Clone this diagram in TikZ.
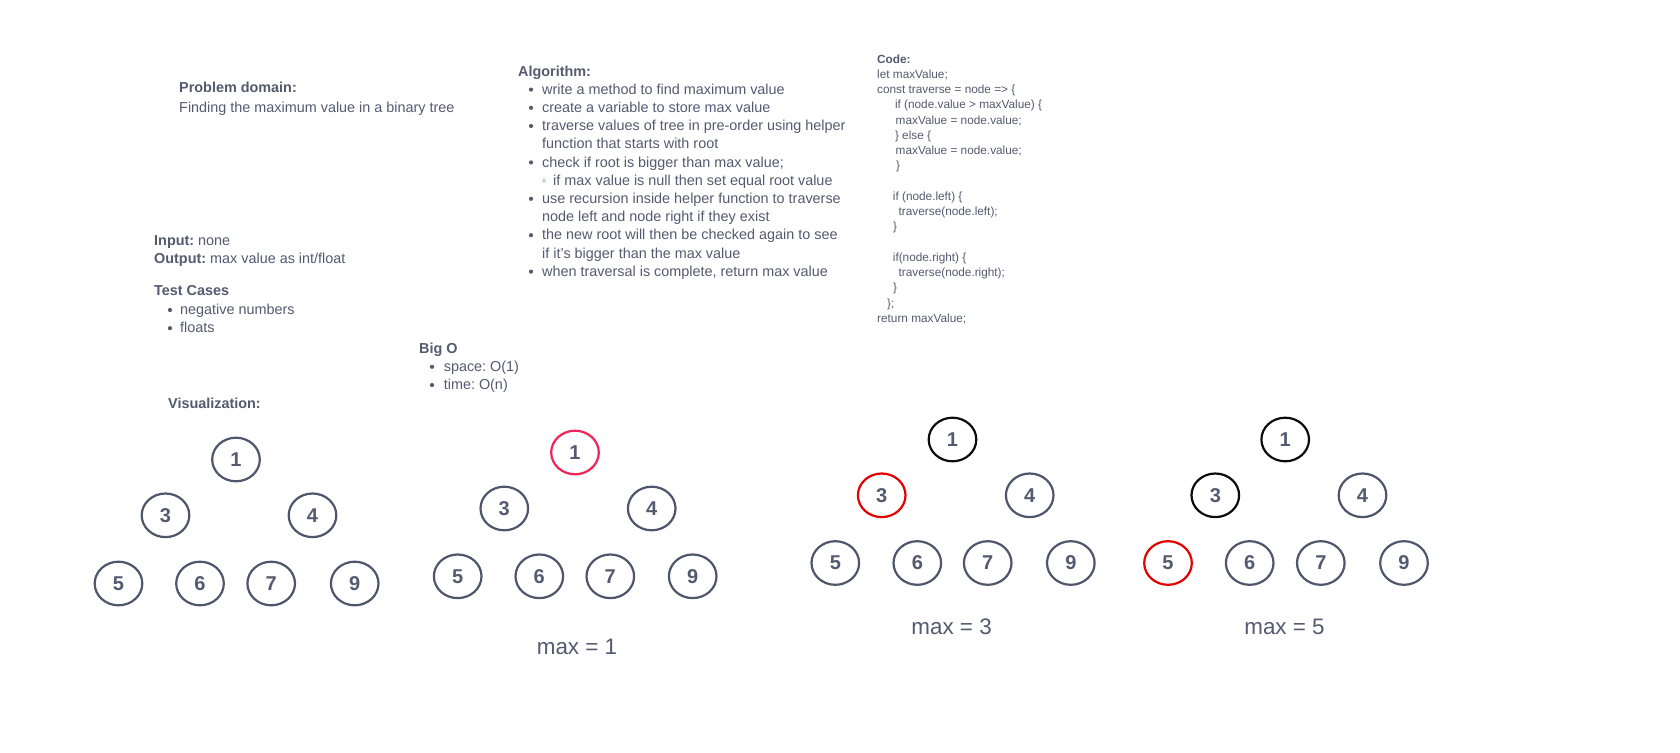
\documentclass[tikz,border=0pt]{standalone}
\usepackage{fontspec}
\setmainfont{Liberation Sans}
\usetikzlibrary{shapes.geometric}
\definecolor{ink}{RGB}{84,91,112}
\definecolor{ring}{RGB}{78,86,108}
\definecolor{pinkred}{RGB}{240,36,86}
\definecolor{hotred}{RGB}{226,0,0}
\definecolor{nearblack}{RGB}{12,12,12}
\definecolor{faint}{RGB}{190,194,204}
\frenchspacing
\tikzset{
  txt/.style={anchor=base west, inner sep=0pt, text=ink, font=\fontsize{14.4}{18}\selectfont},
  hd/.style={txt, font=\fontsize{14.4}{18}\selectfont\bfseries},
  codeln/.style={anchor=base west, inner sep=0pt, text=ink, font=\fontsize{11.8}{15}\selectfont},
  codehd/.style={codeln, font=\fontsize{11.8}{15}\selectfont\bfseries},
  bul/.style={fill=ink, draw=none, circle, inner sep=0pt, minimum size=4.2pt},
  subbul/.style={draw=faint, line width=0.8pt, circle, inner sep=0pt, minimum size=3.2pt},
  tnode/.style={ellipse, draw=ring, line width=2.2pt, minimum width=47.6pt, minimum height=43.6pt, inner sep=0pt, text=ink, font=\fontsize{20}{20}\selectfont\bfseries},
  maxlbl/.style={inner sep=0pt, text=ink, font=\fontsize{22.4}{22}\selectfont},
}
\begin{document}
\frenchspacing
\begin{tikzpicture}[x=1pt, y=-1pt]
\useasboundingbox[fill=white] (0,0) rectangle (1680,752);

% Problem domain
\node[hd] (pdh) at (179,92.7) {Problem domain:};
\node[txt] (pdt) at (179,112.3) {Finding the maximum value in a binary tree};

% Algorithm
\node[hd] (alh) at (518,76) {Algorithm:};
\node[txt] (al1) at (542,94.2) {write a method to find maximum value};
\node[txt] (al2) at (542,112.4) {create a variable to store max value};
\node[txt] (al3) at (542,130.6) {traverse values of tree in pre-order using helper};
\node[txt] (al4) at (542,148.8) {function that starts with root};
\node[txt] (al5) at (542,167) {check if root is bigger than max value;};
\node[txt] (al6) at (553,185.2) {if max value is null then set equal root value};
\node[txt] (al7) at (542,203.4) {use recursion inside helper function to traverse};
\node[txt] (al8) at (542,221.6) {node left and node right if they exist};
\node[txt] (al9) at (542,239.8) {the new root will then be checked again to see};
\node[txt] (al10) at (542,258) {if it{\char"27}s bigger than the max value};
\node[txt] (al11) at (542,276.2) {when traversal is complete, return max value};
\foreach \yy/\nm in {94.2/a,112.4/b,130.6/c,167/d,203.4/e,239.8/f,276.2/g}
  \node[bul] (alb\nm) at (531,\yy-4.6) {};
\node[subbul] (albs) at (544,185.2-4.6) {};

% Code
\node[codehd] (cdh) at (877,63.2) {Code:};
\node[codeln] (c1) at (877,78.45) {let maxValue;};
\node[codeln] (c2) at (877,93.7) {const traverse = node => \{};
\node[codeln] (c3) at (894.8,108.95) {if (node.value > maxValue) \{};
\node[codeln] (c4) at (895.5,124.2) {maxValue = node.value;};
\node[codeln] (c5) at (894.8,139.45) {\} else \{};
\node[codeln] (c6) at (895.5,154.7) {maxValue = node.value;};
\node[codeln] (c7) at (896,169.95) {\}};
\node[codeln] (c9) at (892.7,200.45) {if (node.left) \{};
\node[codeln] (c10) at (898.5,215.7) {traverse(node.left);};
\node[codeln] (c11) at (893,230.95) {\}};
\node[codeln] (c13) at (892.7,261.45) {if(node.right) \{};
\node[codeln] (c14) at (898.5,276.7) {traverse(node.right);};
\node[codeln] (c15) at (893,291.95) {\}};
\node[codeln] (c16) at (887,307.2) {\};};
\node[codeln] (c17) at (877,322.45) {return maxValue;};

% Input / Output / Test cases
\node[txt] (inp) at (154,245) {\textbf{Input:} none};
\node[txt] (outp) at (154,263) {\textbf{Output:} max value as int/float};
\node[hd] (tch) at (154,295) {Test Cases};
\node[txt] (tc1) at (180,314.6) {negative numbers};
\node[txt] (tc2) at (180,332.8) {floats};
\node[bul] (tcb1) at (170,314.6-4.6) {};
\node[bul] (tcb2) at (170,332.8-4.6) {};

% Big O
\node[hd] (boh) at (419,353) {Big O};
\node[txt] (bo1) at (443.6,371.4) {space: O(1)};
\node[txt] (bo2) at (443.6,389.6) {time: O(n)};
\node[bul] (bob1) at (432,371.4-4.6) {};
\node[bul] (bob2) at (432,389.6-4.6) {};

% Visualization
\node[hd] (vish) at (168,408) {Visualization:};

% Tree 1
\node[tnode] (a1) at (236,459.5) {1};
\node[tnode] (a3) at (165.5,515.3) {3};
\node[tnode] (a4) at (312.5,515.3) {4};
\node[tnode] (a5) at (118.5,583.5) {5};
\node[tnode] (a6) at (200,583.5) {6};
\node[tnode] (a7) at (271.2,583.5) {7};
\node[tnode] (a9) at (354.7,583.5) {9};

% Tree 2
\node[tnode, draw=pinkred] (b1) at (575,452.5) {1};
\node[tnode] (b3) at (504.3,508.5) {3};
\node[tnode] (b4) at (651.7,508.5) {4};
\node[tnode] (b5) at (457.7,576.3) {5};
\node[tnode] (b6) at (539.3,576.3) {6};
\node[tnode] (b7) at (610.3,576.3) {7};
\node[tnode] (b9) at (692.7,576.3) {9};
\node[maxlbl] (bmax) at (577,647) {max = 1};

% Tree 3
\node[tnode, draw=nearblack] (c1n) at (952.5,439.5) {1};
\node[tnode, draw=hotred] (c3n) at (881.7,495.3) {3};
\node[tnode] (c4n) at (1029.7,495.3) {4};
\node[tnode] (c5n) at (835.3,563) {5};
\node[tnode] (c6n) at (917.3,563) {6};
\node[tnode] (c7n) at (987.7,563) {7};
\node[tnode] (c9n) at (1070.8,563) {9};
\node[maxlbl] (cmax) at (951.6,627) {max = 3};

% Tree 4
\node[tnode, draw=nearblack] (d1) at (1285.2,439.5) {1};
\node[tnode, draw=nearblack] (d3) at (1215.3,495.3) {3};
\node[tnode] (d4) at (1362.5,495.3) {4};
\node[tnode, draw=hotred] (d5) at (1168,563) {5};
\node[tnode] (d6) at (1249.7,563) {6};
\node[tnode] (d7) at (1320.8,563) {7};
\node[tnode] (d9) at (1404,563) {9};
\node[maxlbl] (dmax) at (1284.5,627) {max = 5};
\end{tikzpicture}
\end{document}
